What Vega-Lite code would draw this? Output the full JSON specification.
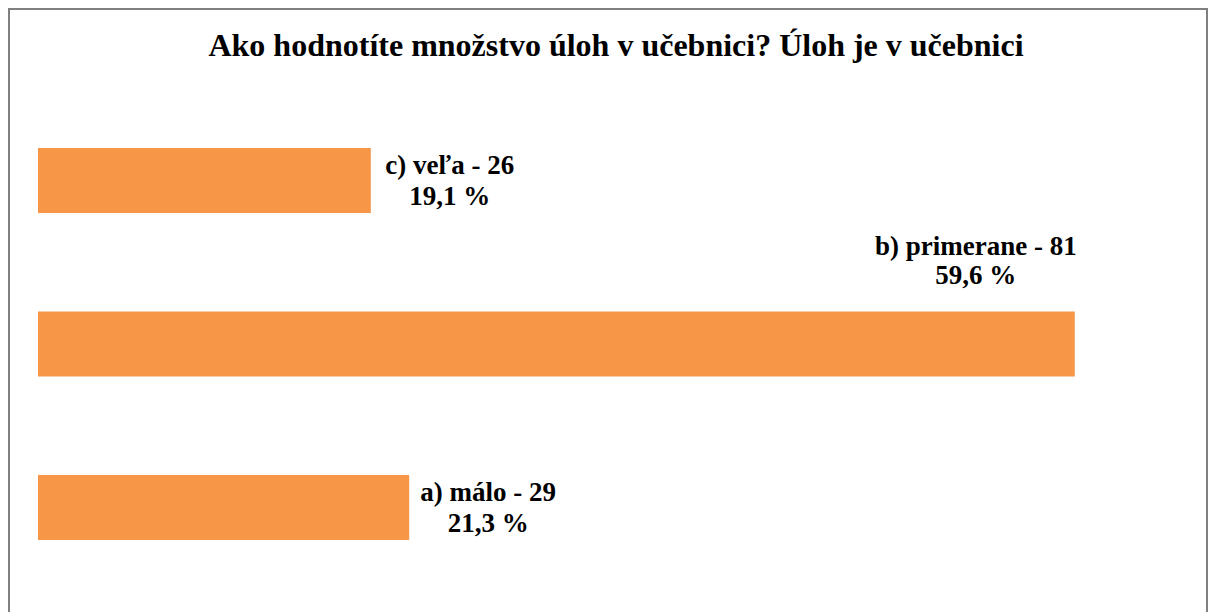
{
  "$schema": "https://vega.github.io/schema/vega-lite/v6.json",
  "width": 1198,
  "height": 612,
  "autosize": {"type": "none"},
  "padding": {"left": 9, "top": 9, "right": 3, "bottom": 0},
  "background": "white",
  "config": {
    "view": {"stroke": "#808080", "strokeWidth": 2},
    "font": "Liberation Serif",
    "text": {"font": "Liberation Serif"}
  },
  "title": {
    "text": "Ako hodnotíte množstvo úloh v učebnici? Úloh je v učebnici",
    "font": "Liberation Serif",
    "fontSize": 32,
    "fontWeight": "bold",
    "color": "black",
    "anchor": "middle",
    "baseline": "alphabetic",
    "offset": -79,
    "dx": 8
  },
  "data": {
    "values": [
      {"kategoria": "c", "label": "c) veľa - 26", "pct": "19,1 %", "pocet": 26},
      {"kategoria": "b", "label": "b) primerane - 81", "pct": "59,6 %", "pocet": 81},
      {"kategoria": "a", "label": "a) málo - 29", "pct": "21,3 %", "pocet": 29}
    ]
  },
  "encoding": {
    "y": {
      "field": "kategoria",
      "type": "nominal",
      "sort": ["c", "b", "a"],
      "scale": {"range": [89.75, 580.25], "paddingInner": 0.6024, "paddingOuter": 0.3012},
      "axis": null
    },
    "x": {
      "field": "pocet",
      "type": "quantitative",
      "scale": {"domain": [-2.266, 91.33], "nice": false, "zero": false},
      "axis": null
    }
  },
  "layer": [
    {
      "mark": {"type": "bar", "color": "#F79646"},
      "encoding": {"x2": {"datum": 0}}
    },
    {
      "transform": [{"filter": "datum.kategoria != 'b'"}],
      "mark": {"type": "text", "font": "Liberation Serif", "align": "center", "baseline": "alphabetic", "dx": 79, "dy": -6.5, "fontSize": 27, "fontWeight": "bold", "color": "black"},
      "encoding": {"text": {"field": "label"}}
    },
    {
      "transform": [{"filter": "datum.kategoria != 'b'"}],
      "mark": {"type": "text", "font": "Liberation Serif", "align": "center", "baseline": "alphabetic", "dx": 79, "dy": 24.5, "fontSize": 27, "fontWeight": "bold", "color": "black"},
      "encoding": {"text": {"field": "pct"}}
    },
    {
      "transform": [{"filter": "datum.kategoria == 'b'"}],
      "mark": {"type": "text", "font": "Liberation Serif", "align": "center", "baseline": "alphabetic", "dx": -99, "dy": -89.5, "fontSize": 27, "fontWeight": "bold", "color": "black"},
      "encoding": {"text": {"field": "label"}}
    },
    {
      "transform": [{"filter": "datum.kategoria == 'b'"}],
      "mark": {"type": "text", "font": "Liberation Serif", "align": "center", "baseline": "alphabetic", "dx": -99, "dy": -60.5, "fontSize": 27, "fontWeight": "bold", "color": "black"},
      "encoding": {"text": {"field": "pct"}}
    }
  ]
}
